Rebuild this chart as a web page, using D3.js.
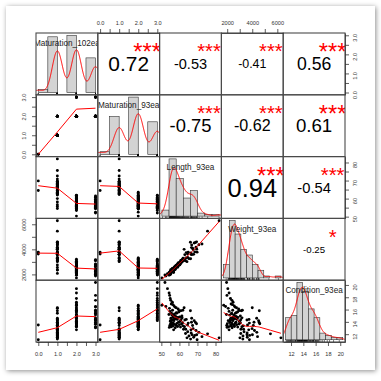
<!DOCTYPE html>
<html>
<head>
<meta charset="utf-8">
<script src="https://cdn.jsdelivr.net/npm/d3@7"></script>
<style>
  body { margin: 0; background: #fff; }
  #card { position: absolute; left: 6px; top: 6px; width: 369px; height: 364px; background: #fff;
          box-shadow: 1px 1px 5px rgba(0,0,0,0.45); }
  svg { position: absolute; left: 0; top: 0; }
  text { font-family: "Liberation Sans", Arial, sans-serif; }
</style>
</head>
<body>
<div id="card"></div>
<script>
// variable names (diagonal labels)
const varNames = ["Maturation_102ea", "Maturation_93ea", "Length_93ea", "Weight_93ea", "Condition_93ea"]

// observations, one entry per fish
const maturation102 = [0,0, 1,1,
  1,1,1,1,1,1,1,1,1,1,1,1,1,1,1,1,1,1,1,1,1,1,1,1,1,1,1,1,1,
  3,2,2,3,2,2,3,2,3,2,2,3,2,3,3,2,2,3,2,2,3,2,3,2,2,
  2,3,2,3,1,2,2,2,3,2,3,1,2,3,2,3,2,2,1,2,3,2,3,2,3,2,1,2,2,3,2,2,3,2,1,2,2,3,2,3,2,1]
const maturation93 = [0,0, 2,2,
  1,1,1,1,1,1,1,1,1,1,1,1,1,1,1,1,1,1,1,1,1,1,1,1,1,1,1,1,1,
  3,3,3,3,3,3,3,3,3,3,3,3,3,3,3,3,3,3,3,3,3,3,3,3,3,
  2,2,2,2,2,2,2,2,2,2,2,2,2,2,2,2,2,2,2,2,2,2,2,2,2,2,2,2,2,2,2,2,2,2,2,2,2,2,2,2,2,2]
const length93 = [69.8,64.5, 62.8,63.5,
  82.0,75.6,72.5,70.8,69.6,69.2,68.9,68.5,68.2,67.9,67.6,67.3,67.0,66.8,66.5,66.2,66.1,66.4,65.3,64.9,64.6,64.2,63.8,63.4,63.0,62.6,62.3,66.7,69.5,
  52.0,53.4,54.3,54.6,54.9,55.0,55.2,55.5,55.8,56.1,56.4,56.7,57.0,57.3,57.5,57.8,58.2,58.5,58.9,59.3,59.7,60.2,60.8,61.4,61.9,
  50.3,52.5,54.2,54.4,54.5,54.7,54.8,55.0,55.1,55.3,55.4,55.6,55.7,55.9,56.0,56.2,56.3,56.5,56.6,56.8,57.0,57.1,57.3,57.5,57.7,57.9,58.1,58.3,58.6,58.8,59.0,59.2,59.5,59.8,60.0,60.3,60.6,60.9,61.2,61.5,61.8,62.0]
const weight93 = [3775,3622, 3170,3310,
  6286,5450,4421,4365,4013,4176,4547,3793,4504,3600,3985,4084,3580,4352,3588,3249,4563,3718,3258,3773,3343,3016,3740,3084,3575,3999,3095,4139,4599,
  1950,2050,2150,1980,2260,2080,2380,2310,2190,2470,2420,2250,2560,2380,2620,2460,2740,2660,2580,2910,2830,2760,3120,3050,3210,
  1720,1870,1940,1990,2080,1960,2150,2230,2010,2290,2120,2350,2200,2410,2270,2440,2330,2480,2360,2150,2460,2540,2420,2610,2390,2680,2550,2720,2620,2790,2580,2860,2700,2930,2760,2970,2840,3080,2950,3180,3050,3290]
const condition93 = [11.1,13.5, 13.2,12.8,
  11.4,12.05,11.6,12.3,11.9,12.6,13.9,11.8,14.2,11.5,12.9,13.4,11.9,14.6,12.2,11.2,15.8,12.7,11.7,13.8,12.4,11.4,14.4,12.1,14.3,16.3,12.8,13.95,13.7,
  20.4,19.4,18.7,18.3,17.8,14.2,17.5,16.9,15.1,17.2,16.8,14.4,16.6,15.3,16.4,14.5,16.3,15.4,14.7,16.1,15.6,14.8,15.8,14.95,15.9,
  16.7,16.5,15.2,13.1,16.2,13.4,15.7,14.1,13.7,14.6,13.2,15.4,13.9,14.3,13.5,15.9,13.3,14.8,13.8,12.7,14.2,15.1,13.6,14.5,13.05,14.9,13.45,15.5,13.75,14.4,13.25,14.7,13.95,15.8,13.55,14.05,13.15,14.35,13.65,14.65,13.85,13.35]
const columns = [maturation102, maturation93, length93, weight93, condition93]

// histogram breaks
const maturationBreaks = [0, 0.5, 1, 1.5, 2, 2.5, 3]
const lengthBreaks = [50, 54, 58, 62, 66, 70, 74, 78, 82]
const weightBreaks = [1500, 2000, 2500, 3000, 3500, 4000, 4500, 5000, 5500, 6000, 6500]
const conditionBreaks = [11, 12, 13, 14, 15, 16, 17, 18, 19, 20, 21]
const breaksList = [maturationBreaks, maturationBreaks, lengthBreaks, weightBreaks, conditionBreaks]

// axis ticks and their labels
const maturationTicks = [0, 0.5, 1, 1.5, 2, 2.5, 3]
const maturationLabels = ["0.0", "", "1.0", "", "2.0", "", "3.0"]
const lengthTicks = [50, 55, 60, 65, 70, 75, 80]
const lengthLabels = ["50", "", "60", "", "70", "", "80"]
const weightTicks = [2000, 3000, 4000, 5000, 6000]
const weightLabels = ["2000", "", "4000", "", "6000"]
const conditionTicks = [12, 14, 16, 18, 20]
const conditionLabels = ["12", "14", "16", "18", "20"]
const tickList = [maturationTicks, maturationTicks, lengthTicks, weightTicks, conditionTicks]
const labelList = [maturationLabels, maturationLabels, lengthLabels, weightLabels, conditionLabels]

// upper panels: correlations and significance stars
const corrRow = [0, 0, 0, 0, 1, 1, 1, 2, 2, 3]
const corrCol = [1, 2, 3, 4, 2, 3, 4, 3, 4, 4]
const corrText = ["0.72", "-0.53", "-0.41", "0.56", "-0.75", "-0.62", "0.61", "0.94", "-0.54", "-0.25"]
const corrStars = ["***", "***", "***", "***", "***", "***", "***", "***", "***", "*"]

// sizes
const gridLeft = 36, gridTop = 33, P = 61.8
const nVar = columns.length

const svg = d3.select('body').append('svg').attr('width', 381).attr('height', 381)
const defs = svg.append('defs')

const pad = ([a, b]) => [a - 0.04 * (b - a), b + 0.04 * (b - a)]
const xScales = columns.map((c, k) => d3.scaleLinear().domain(pad(d3.extent(c))).range([gridLeft + k * P, gridLeft + (k + 1) * P]))
const yScales = columns.map((c, k) => d3.scaleLinear().domain(pad(d3.extent(c))).range([gridTop + (k + 1) * P, gridTop + k * P]))

// kernel density, gaussian with nrd0 bandwidth
function density(v) {
  const sd = d3.deviation(v)
  const iqr = d3.quantile(v, 0.75) - d3.quantile(v, 0.25)
  let lo = Math.min(sd, iqr / 1.34)
  if (!(lo > 0)) lo = sd
  const bw = 0.9 * lo * Math.pow(v.length, -0.2)
  const [mn, mx] = d3.extent(v)
  const c = 1 / (v.length * bw * Math.sqrt(2 * Math.PI))
  return d3.range(512).map(k => {
    const g = mn - 3 * bw + k * (mx - mn + 6 * bw) / 511
    return [g, c * d3.sum(v, xi => Math.exp(-0.5 * ((g - xi) / bw) ** 2))]
  })
}

// right-closed histogram counts
function histCounts(v, br) {
  const counts = new Array(br.length - 1).fill(0)
  v.forEach(x => { let k = d3.bisectLeft(br, x) - 1; if (k < 0) k = 0; counts[k]++ })
  return counts
}

// lowess smoother (same steps as R's clowess)
function lowess(x0, y0, f, iter) {
  const order = d3.range(x0.length).sort((a, b) => x0[a] - x0[b])
  const x = order.map(i => x0[i]), y = order.map(i => y0[i])
  const n = x.length
  const ns = Math.max(2, Math.min(n, Math.floor(f * n + 1e-7)))
  const range = x[n - 1] - x[0]
  const delta = 0.01 * range
  const fit = new Array(n).fill(0), rw = new Array(n).fill(1), w = new Array(n).fill(0)
  const lowest = (xv, nleft, nright, userw) => {
    const h = Math.max(xv - x[nleft], x[nright] - xv)
    const h9 = 0.999 * h, h1 = 0.001 * h
    let a = 0, j = nleft
    while (j < n) {
      w[j] = 0
      const r = Math.abs(x[j] - xv)
      if (r <= h9) {
        w[j] = r <= h1 ? 1 : Math.pow(1 - Math.pow(r / h, 3), 3)
        if (userw) w[j] *= rw[j]
        a += w[j]
      } else if (x[j] > xv) break
      j++
    }
    const nrt = j - 1
    if (a <= 0) return null
    for (j = nleft; j <= nrt; j++) w[j] /= a
    if (h > 0) {
      a = 0
      for (j = nleft; j <= nrt; j++) a += w[j] * x[j]
      let b = xv - a, c = 0
      for (j = nleft; j <= nrt; j++) c += w[j] * (x[j] - a) * (x[j] - a)
      if (Math.sqrt(c) > 0.001 * range) {
        b /= c
        for (j = nleft; j <= nrt; j++) w[j] *= b * (x[j] - a) + 1
      }
    }
    let out = 0
    for (j = nleft; j <= nrt; j++) out += w[j] * y[j]
    return out
  }
  for (let it = 1; it <= iter + 1; it++) {
    let nleft = 0, nright = ns - 1, last = -1, i = 0
    for (;;) {
      if (nright < n - 1) {
        const d1 = x[i] - x[nleft], d2 = x[nright + 1] - x[i]
        if (d1 > d2) { nleft++; nright++; continue }
      }
      const v = lowest(x[i], nleft, nright, it > 1)
      fit[i] = v === null ? y[i] : v
      if (last < i - 1) {
        const denom = x[i] - x[last]
        for (let j = last + 1; j < i; j++) {
          const al = (x[j] - x[last]) / denom
          fit[j] = al * fit[i] + (1 - al) * fit[last]
        }
      }
      last = i
      const cut = x[last] + delta
      for (i = last + 1; i < n; i++) {
        if (x[i] > cut) break
        if (x[i] === x[last]) { fit[i] = fit[last]; last = i }
      }
      i = Math.max(last + 1, i - 1)
      if (last >= n - 1) break
    }
    if (it > iter) break
    const res = y.map((v, k) => Math.abs(v - fit[k]))
    const sc = d3.mean(res)
    const cmad = 6 * d3.median(res)
    if (cmad < 1e-7 * sc) break
    const c9 = 0.999 * cmad, c1 = 0.001 * cmad
    res.forEach((r, k) => { rw[k] = r <= c1 ? 1 : r <= c9 ? Math.pow(1 - Math.pow(r / cmad, 2), 2) : 0 })
  }
  return x.map((v, k) => [v, fit[k]])
}

// draw panels
for (let i = 0; i < nVar; i++) {
  for (let j = 0; j < nVar; j++) {
    const x0 = gridLeft + j * P, y0 = gridTop + i * P
    const id = `clip-${i}-${j}`
    defs.append('clipPath').attr('id', id).append('rect').attr('x', x0).attr('y', y0).attr('width', P).attr('height', P)
    const g = svg.append('g').attr('clip-path', `url(#${id})`)

    if (i === j) {
      // histogram + density + rug + name
      const v = columns[i], br = breaksList[i]
      const counts = histCounts(v, br)
      const dens = counts.map((c, k) => c / (v.length * (br[k + 1] - br[k])))
      const maxD = d3.max(dens)
      const hx = d3.scaleLinear().domain(pad([br[0], br[br.length - 1]])).range([x0, x0 + P])
      const hy = d3.scaleLinear().domain([-0.04 * maxD, 1.04 * maxD]).range([y0 + P, y0])
      g.selectAll('rect.bar').data(dens).enter().append('rect')
        .attr('class', 'bar')
        .attr('x', (d, k) => hx(br[k]))
        .attr('width', (d, k) => hx(br[k + 1]) - hx(br[k]))
        .attr('y', d => hy(d))
        .attr('height', d => hy(0) - hy(d))
        .attr('fill', '#d3d3d3')
        .attr('stroke', '#333')
        .attr('stroke-width', 0.6)
      g.append('path').datum(density(v))
        .attr('d', d3.line().x(d => hx(d[0])).y(d => hy(d[1])))
        .attr('fill', 'none').attr('stroke', 'red').attr('stroke-width', 1)
      g.selectAll('line.rug').data(v).enter().append('line')
        .attr('x1', d => hx(d)).attr('x2', d => hx(d))
        .attr('y1', y0 + P).attr('y2', y0 + P - 0.03 * P)
        .attr('stroke', '#000').attr('stroke-width', 0.6)
      g.append('text')
        .attr('x', x0 + P / 2).attr('y', y0 + 0.167 * P + 0.36 * 8.2)
        .attr('text-anchor', 'middle').attr('font-size', 8.2).attr('fill', '#222')
        .text(varNames[i])
    } else if (i > j) {
      // scatter + lowess
      const xs = columns[j], ys = columns[i]
      g.selectAll('circle').data(xs).enter().append('circle')
        .attr('cx', d => xScales[j](d))
        .attr('cy', (d, k) => yScales[i](ys[k]))
        .attr('r', 1.45).attr('fill', '#000')
      g.append('path').datum(lowess(xs, ys, 2 / 3, 3))
        .attr('d', d3.line().x(d => xScales[j](d[0])).y(d => yScales[i](d[1])))
        .attr('fill', 'none').attr('stroke', 'red').attr('stroke-width', 1)
    }
  }
}

// correlations in upper panels
corrText.forEach((txt, k) => {
  const i = corrRow[k], j = corrCol[k]
  const x0 = gridLeft + j * P, y0 = gridTop + i * P
  const g = svg.append('g').attr('clip-path', `url(#clip-${i}-${j})`)
  const r = Math.abs(+txt)
  const t = g.append('text').attr('font-size', 10).text(txt)
  const w10 = t.node().getComputedTextLength()
  const corrSize = 10 * 0.84 * P / w10 * (r + 0.3) / 1.3
  const starSize = 10 * 0.75 * P / w10
  t.attr('font-size', corrSize)
    .attr('x', x0 + P / 2).attr('y', y0 + P / 2 + 0.358 * corrSize)
    .attr('text-anchor', 'middle').attr('fill', '#000')
  g.append('text').attr('font-size', starSize)
    .attr('x', x0 + 0.8 * P).attr('y', y0 + 0.225 * P + 0.566 * starSize)
    .attr('text-anchor', 'middle').attr('fill', 'red')
    .text(corrStars[k])
})

// panel borders
for (let i = 0; i < nVar; i++) {
  for (let j = 0; j < nVar; j++) {
    svg.append('rect').attr('x', gridLeft + j * P).attr('y', gridTop + i * P).attr('width', P).attr('height', P)
      .attr('fill', 'none').attr('stroke', '#4a4a4a').attr('stroke-width', 1.1)
  }
}

// axes
const axisFont = 5.6
function styleAxis(sel) {
  sel.attr('font-size', axisFont).attr('font-family', '"Liberation Sans", Arial, sans-serif')
  sel.select('.domain').attr('stroke', '#333').attr('stroke-width', 0.8)
  sel.selectAll('.tick line').attr('stroke', '#333').attr('stroke-width', 0.8)
  sel.selectAll('.tick text').attr('fill', '#333')
}
for (let k = 0; k < nVar; k++) {
  const fmt = (d, idx) => labelList[k][idx]
  if (k % 2 === 0) {
    const ax = svg.append('g').attr('transform', `translate(0,${gridTop + nVar * P})`)
      .call(d3.axisBottom(xScales[k]).tickValues(tickList[k]).tickFormat(fmt).tickSize(4).tickSizeOuter(0).tickPadding(6))
    styleAxis(ax)
    const ay = svg.append('g').attr('transform', `translate(${gridLeft + nVar * P},0)`)
      .call(d3.axisRight(yScales[k]).tickValues(tickList[k]).tickFormat(fmt).tickSize(4).tickSizeOuter(0))
    styleAxis(ay)
    ay.selectAll('.tick text').attr('x', 0).attr('dy', 0).attr('text-anchor', 'middle')
      .attr('transform', 'translate(11.5,2) rotate(-90)')
  } else {
    const ax = svg.append('g').attr('transform', `translate(0,${gridTop})`)
      .call(d3.axisTop(xScales[k]).tickValues(tickList[k]).tickFormat(fmt).tickSize(4).tickSizeOuter(0).tickPadding(4.5))
    styleAxis(ax)
    const ay = svg.append('g').attr('transform', `translate(${gridLeft},0)`)
      .call(d3.axisLeft(yScales[k]).tickValues(tickList[k]).tickFormat(fmt).tickSize(4).tickSizeOuter(0))
    styleAxis(ay)
    ay.selectAll('.tick text').attr('x', 0).attr('dy', 0).attr('text-anchor', 'middle')
      .attr('transform', 'translate(-10.5,0) rotate(-90)')
  }
}
</script>
</body>
</html>
